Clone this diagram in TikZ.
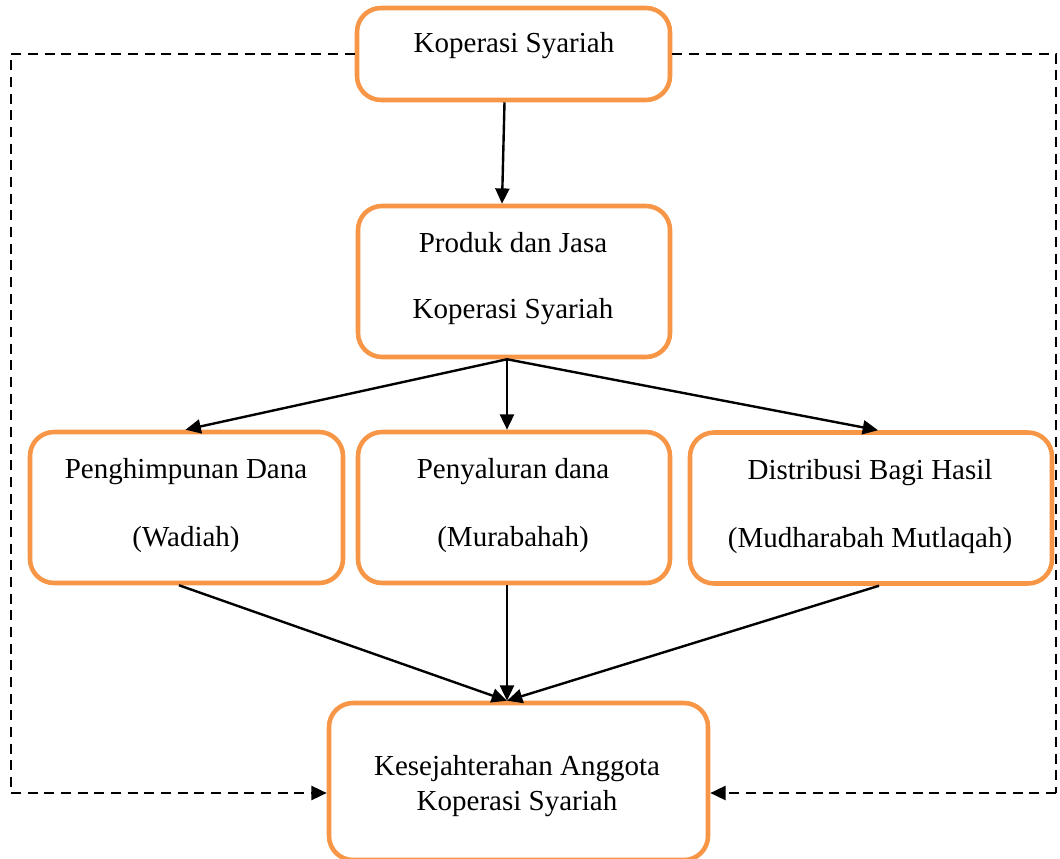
\documentclass[tikz,border=0pt]{standalone}
\usepackage{fontspec}
\setmainfont{Liberation Serif}
\usetikzlibrary{arrows.meta,calc}
\definecolor{boxorange}{HTML}{F79646}
\begin{document}
\begin{tikzpicture}[x=0.75pt,y=-0.75pt,
  box/.style={draw=boxorange,line width=3.4pt,rounded corners=18pt,fill=white,inner sep=0pt},
  lbl/.style={anchor=base,inner sep=0pt,font=\fontsize{21.75}{26}\selectfont},
  arr/.style={draw=black,line width=1.8pt,-{Triangle[length=11.5pt,width=10.5pt]}},
  dasharr/.style={draw=black,line width=1.8pt,dash pattern=on 7.5pt off 5pt,-{Triangle[length=11.5pt,width=10.5pt]}},
  dashln/.style={draw=black,line width=1.8pt,dash pattern=on 7.5pt off 5pt}]
\useasboundingbox (0,0) rectangle (1060,859);
% boxes
\node[box,minimum width=234.75pt,minimum height=69pt] (top) at (513.5,54) {};
\node[box,minimum width=234pt,minimum height=113.25pt] (prod) at (514,281.5) {};
\node[box,minimum width=234.75pt,minimum height=113.25pt] (ph) at (186.5,507.5) {};
\node[box,minimum width=234pt,minimum height=113.25pt] (py) at (514,507.5) {};
\node[box,minimum width=271.5pt,minimum height=113.25pt] (ds) at (871,508) {};
\node[box,minimum width=284.25pt,minimum height=117.75pt] (ks) at (518.5,781.5) {};
% texts
\node[lbl] (t1) at (514,53) {Koperasi Syariah};
\node[lbl] (t2a) at (513,253) {Produk dan Jasa};
\node[lbl] (t2b) at (513,319) {Koperasi Syariah};
\node[lbl] (t3a) at (186,478) {Penghimpunan Dana};
\node[lbl] (t3b) at (186,546) {(Wadiah)};
\node[lbl] (t4a) at (513,478) {Penyaluran dana};
\node[lbl] (t4b) at (513,546) {(Murabahah)};
\node[lbl] (t5a) at (870,479) {Distribusi Bagi Hasil};
\node[lbl] (t5b) at (870,547) {(Mudharabah Mutlaqah)};
\node[lbl] (t6a) at (517,775) {Kesejahterahan Anggota};
\node[lbl] (t6b) at (517,810) {Koperasi Syariah};
% solid connectors
\draw[arr] ($(top.south)+(-9,0)$) -- ($(prod.north)+(-12,0)$);
\coordinate (pb) at ($(prod.south)+(-7,0)$);
\draw[arr] (pb) -- ($(ph.north)+(-1,0)$);
\draw[arr] (pb) -- ($(py.north)+(-7,0)$);
\draw[arr] (pb) -- ($(ds.north)+(7,0)$);
\coordinate (kt) at ($(ks.north)+(-11.5,0)$);
\draw[arr] ($(ph.south)+(-7.5,0)$) -- (kt);
\draw[arr] ($(py.south)+(-7,0)$) -- (kt);
\draw[arr] ($(ds.south)+(8,0)$) -- (kt);
% dashed feedback lines
\coordinate (lc) at (11,54);
\coordinate (rc) at (1056,54);
\coordinate (kl) at ($(ks.west)+(0,11.5)$);
\coordinate (kr) at ($(ks.east)+(0,11.5)$);
\draw[dashln] (top.west) -- (lc) -- (lc |- kl);
\draw[dasharr] (lc |- kl) -- (kl);
\draw[dashln] (top.east) -- (rc) -- (rc |- kr);
\draw[dasharr] (rc |- kr) -- (kr);
\end{tikzpicture}
\end{document}
